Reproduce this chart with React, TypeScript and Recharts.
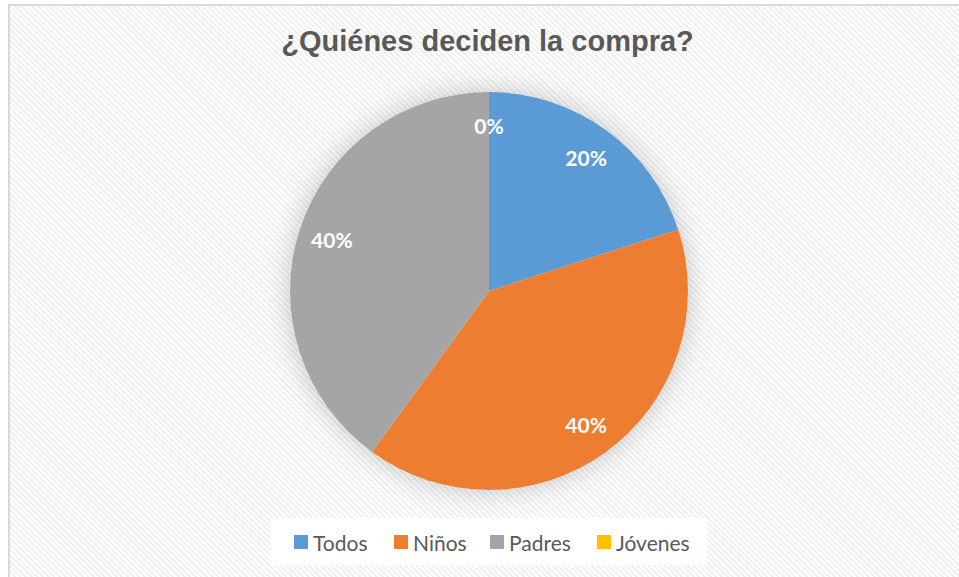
import React from "react";
import { PieChart, Pie, Cell } from "recharts";

const categorias = ["Todos", "Niños", "Padres", "Jóvenes"];
const valores = [20, 40, 40, 0];
const colores = ["#5b9bd5", "#ed7d31", "#a5a5a5", "#ffc000"];

const data = categorias.map((name, i) => ({ name, value: valores[i] }));
const shadowData = [{ name: "sombra", value: 1 }];

const RAD = Math.PI / 180;

const renderLabel = (props: any) => {
  const { cx, cy, midAngle, outerRadius, percent } = props;
  const r = outerRadius * 0.83;
  const x = cx + r * Math.cos(-midAngle * RAD);
  const y = cy + r * Math.sin(-midAngle * RAD);
  return (
    <text
      x={x}
      y={y}
      fill="#ffffff"
      textAnchor="middle"
      dominantBaseline="central"
      fontFamily="Lato, 'Open Sans', sans-serif"
      fontWeight={700}
      fontSize={21}
    >
      {Math.round(percent * 100) + "%"}
    </text>
  );
};

const legendX = [294, 394, 490, 597];

export default function App() {
  return (
    <div>
      <style>{`body{overflow:hidden;margin:0}
.pie-shadow .recharts-sector{filter:drop-shadow(0 0 14px rgba(0,0,0,0.22));}`}</style>
      <div
        style={{
          position: "absolute",
          left: 8,
          top: 4,
          width: 960,
          height: 580,
          boxSizing: "border-box",
          border: "2px solid #d9d9d9",
          background:
            "repeating-linear-gradient(45deg, #ffffff 0px, #ffffff 2px, #f0f0f0 2px, #f0f0f0 4px)",
        }}
      />
      <div
        style={{
          position: "absolute",
          left: 0,
          top: 25,
          width: 975,
          textAlign: "center",
          fontFamily: "'Liberation Sans', Arial, sans-serif",
          fontWeight: 700,
          fontSize: 29,
          color: "#595959",
        }}
      >
        ¿Quiénes deciden la compra?
      </div>
      <div style={{ position: "absolute", left: 0, top: 0 }}>
        <PieChart
          width={959}
          height={577}
          margin={{ top: 0, right: 0, bottom: 0, left: 0 }}
        >
          <Pie
            data={shadowData}
            dataKey="value"
            cx={489}
            cy={291}
            outerRadius={199}
            fill="#ffffff"
            stroke="none"
            className="pie-shadow"
            isAnimationActive={false}
          />
          <Pie
            data={data}
            dataKey="value"
            nameKey="name"
            cx={489}
            cy={291}
            outerRadius={199}
            startAngle={90}
            endAngle={-270}
            stroke="none"
            label={renderLabel}
            labelLine={false}
            isAnimationActive={false}
          >
            {data.map((d, i) => (
              <Cell key={d.name} fill={colores[i]} />
            ))}
          </Pie>
        </PieChart>
      </div>
      <div
        style={{
          position: "absolute",
          left: 271,
          top: 518,
          width: 436,
          height: 47,
          background: "rgba(255,255,255,0.92)",
        }}
      />
      {categorias.map((c, i) => (
        <div
          key={c}
          style={{
            position: "absolute",
            left: legendX[i],
            top: 528,
            height: 28,
            display: "flex",
            alignItems: "center",
            fontFamily: "Lato, 'Open Sans', sans-serif",
            fontSize: 21,
            color: "#595959",
            whiteSpace: "nowrap",
          }}
        >
          <span
            style={{
              display: "inline-block",
              width: 14,
              height: 14,
              background: colores[i],
              marginRight: 5,
            }}
          />
          {c}
        </div>
      ))}
    </div>
  );
}
